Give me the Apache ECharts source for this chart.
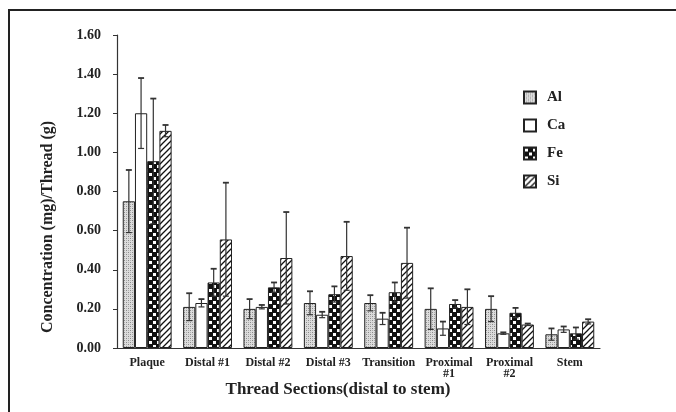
<!DOCTYPE html>
<html><head><meta charset="utf-8">
<script src="https://cdn.jsdelivr.net/npm/echarts@6/dist/echarts.min.js"></script>
<style>html,body{margin:0;padding:0;background:#fff}#c{width:676px;height:412px}</style>
</head><body><div id="c"></div>
<script>
var categories = ['Plaque','Distal #1','Distal #2','Distal #3','Transition','Proximal\n#1','Proximal\n#2','Stem'];
var seriesNames = ['Al','Ca','Fe','Si'];
var alVals = [0.75,0.21,0.20,0.23,0.23,0.20,0.20,0.07];
var alErr  = [0.16,0.07,0.05,0.06,0.04,0.105,0.065,0.03];
var caVals = [1.20,0.23,0.21,0.17,0.15,0.10,0.075,0.095];
var caErr  = [0.18,0.02,0.01,0.015,0.03,0.035,0.005,0.015];
var feVals = [0.955,0.335,0.31,0.275,0.285,0.225,0.18,0.075];
var feErr  = [0.32,0.07,0.025,0.04,0.05,0.02,0.025,0.03];
var siVals = [1.11,0.555,0.46,0.47,0.435,0.21,0.12,0.135];
var siErr  = [0.03,0.29,0.235,0.175,0.18,0.09,0.005,0.012];
var yTicks = [0,0.2,0.4,0.6,0.8,1.0,1.2,1.4,1.6];

var values = [alVals, caVals, feVals, siVals];
var errors = [alErr, caErr, feErr, siErr];

function makeCanvas(w,h,draw){var c=document.createElement('canvas');c.width=w;c.height=h;draw(c.getContext('2d'));return c;}
var patAl = makeCanvas(4,4,function(g){g.fillStyle='#dcdcdc';g.fillRect(0,0,4,4);g.fillStyle='#8a8a8a';g.fillRect(0,0,1,1);g.fillRect(2,2,1,1);g.fillStyle='#b0b0b0';g.fillRect(2,0,1,1);g.fillRect(0,2,1,1);});
var patFe = makeCanvas(8,8,function(g){g.fillStyle='#111';g.fillRect(0,0,8,8);g.fillStyle='#fff';g.fillRect(1,1,3,3);g.fillRect(5,5,3,3);});
var patSi = makeCanvas(6,6,function(g){g.fillStyle='#fff';g.fillRect(0,0,6,6);g.strokeStyle='#111';g.lineWidth=1.3;g.beginPath();g.moveTo(-1,7);g.lineTo(7,-1);g.moveTo(-1,1);g.lineTo(1,-1);g.moveTo(5,7);g.lineTo(7,5);g.stroke();});
var fills = [{image:patAl,repeat:'repeat'}, '#ffffff', {image:patFe,repeat:'repeat'}, {image:patSi,repeat:'repeat'}];

var CAT_GAP = 0.19;
var FONT = 'Liberation Serif';
var series = [];
seriesNames.forEach(function(n,i){
  series.push({name:n,type:'bar',data:values[i],barGap:'0%',barCategoryGap:(CAT_GAP*100)+'%',
    itemStyle:{color:fills[i],borderColor:'#222',borderWidth:1},z:2});
});
seriesNames.forEach(function(n,i){
  var d = values[i].map(function(v,k){return [k,v,errors[i][k]];});
  series.push({type:'custom',name:n+'_err',data:d,z:5,silent:true,
    renderItem:function(params,api){
      var k=api.value(0),v=api.value(1),e=api.value(2);
      var band=api.size([1,0])[0];
      var gw=band*(1-CAT_GAP), bw=gw/4;
      var top=api.coord([k,v+e]), bot=api.coord([k,v-e]);
      var x=top[0]-gw/2+bw*(i+0.5);
      var cap=3;
      var st={stroke:'#333',lineWidth:1.2};
      return {type:'group',children:[
        {type:'line',shape:{x1:x,y1:top[1],x2:x,y2:bot[1]},style:st},
        {type:'line',shape:{x1:x-cap,y1:top[1],x2:x+cap,y2:top[1]},style:{stroke:'#333',lineWidth:1.8}},
        {type:'line',shape:{x1:x-cap,y1:bot[1],x2:x+cap,y2:bot[1]},style:st}
      ]};
    }});
});

var chart = echarts.init(document.getElementById('c'));
chart.setOption({
  animation:false,
  backgroundColor:'#fff',
  grid:{left:117,right:76,top:35,bottom:64,containLabel:false},
  legend:{data:seriesNames,orient:'vertical',left:523,top:90,padding:0,itemWidth:12,itemHeight:12,itemGap:13,
    icon:'rect',textStyle:{fontFamily:FONT,fontWeight:'bold',fontSize:15,color:'#222',padding:[0,0,0,6]}},
  xAxis:{type:'category',data:categories,
    axisLine:{lineStyle:{color:'#333',width:1.2}},
    axisTick:{inside:true,length:4,lineStyle:{color:'#333'}},
    axisLabel:{interval:0,margin:9,fontFamily:FONT,fontWeight:'bold',fontSize:12,color:'#222',lineHeight:11}},
  yAxis:{type:'value',min:0,max:1.6,interval:0.2,
    axisLine:{show:true,lineStyle:{color:'#333',width:1.2}},
    axisTick:{show:true,length:4,lineStyle:{color:'#333'}},
    splitLine:{show:false},
    axisLabel:{margin:16,fontFamily:FONT,fontWeight:'bold',fontSize:14,color:'#222',
      formatter:function(v){return v.toFixed(2);}}},
  graphic:[
    {type:'rect',shape:{x:9,y:10,width:720,height:500},style:{fill:'none',stroke:'#222',lineWidth:2},silent:true},
    {type:'text',x:48,y:227,rotation:Math.PI/2,style:{text:'Concentration (mg)/Thread (g)',fontFamily:FONT,fontWeight:'bold',fontSize:16,fill:'#222',textAlign:'center',textVerticalAlign:'middle'}},
    {type:'text',x:338,y:390,style:{text:'Thread Sections(distal to stem)',fontFamily:FONT,fontWeight:'bold',fontSize:17,fill:'#222',textAlign:'center',textVerticalAlign:'middle'}}
  ],
  series:series
});
</script></body></html>
